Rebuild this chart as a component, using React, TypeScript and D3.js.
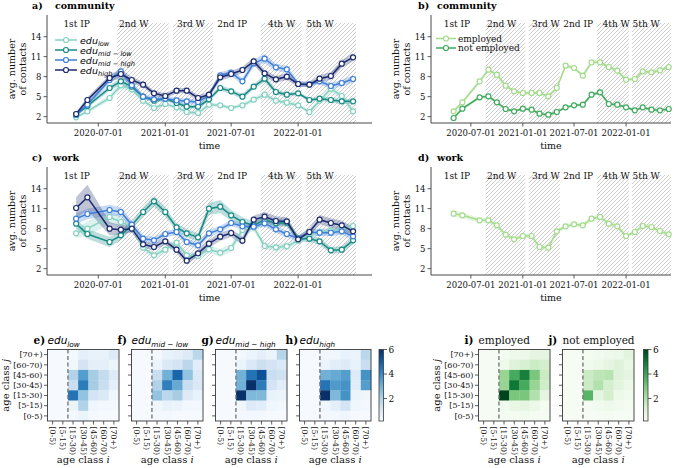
import React from "react";
import * as d3 from "d3";

const SERIF = "'DejaVu Serif', 'Liberation Serif', serif";
const SANS = "'DejaVu Sans', sans-serif";

// ---------- data ----------
const surveyDates = [
  "2020-05-01", "2020-06-01", "2020-08-01", "2020-09-01", "2020-10-01", "2020-11-01", "2020-12-01",
  "2021-01-01", "2021-02-01", "2021-03-01", "2021-04-01", "2021-05-01", "2021-06-01", "2021-07-01",
  "2021-08-01", "2021-09-01", "2021-10-01", "2021-11-01", "2021-12-01", "2022-01-01", "2022-02-01",
  "2022-03-01", "2022-04-01", "2022-05-01", "2022-06-01",
];
const xTickLabels = ["2020-07-01", "2021-01-01", "2021-07-01", "2022-01-01"];
const yTickValues = [2, 5, 8, 11, 14];

const periodNames = ["1st IP", "2nd W", "3rd W", "2nd IP", "4th W", "5th W"];
const periodLabelDates = ["2020-03-27", "2020-08-27", "2021-02-02", "2021-05-24", "2021-10-10", "2022-01-24"];
const hatchStartDates = ["2020-08-22", "2021-01-22", "2021-09-20", "2022-01-22"];
const hatchEndDates = ["2021-01-10", "2021-05-12", "2022-01-11", "2022-06-09"];

// community by education
const communityEduLow = [1.9, 2.8, 4.8, 6.7, 6.1, 4.4, 3.3, 3.9, 3.4, 2.7, 2.55, 3.8, 3.7, 3.3, 3.7, 4.55, 5.3, 4.4, 4.1, 3.7, 2.7, 4.4, 6.2, 5.1, 2.8];
const communityEduMidLow = [2.3, 3.6, 6.3, 7.3, 6.5, 5.0, 4.4, 4.7, 4.05, 3.5, 3.5, 4.6, 6.3, 5.8, 5.0, 6.5, 7.7, 5.7, 5.3, 5.5, 4.5, 4.7, 4.5, 4.3, 4.3];
const communityEduMidHigh = [2.3, 3.8, 7.5, 8.8, 6.7, 5.0, 4.6, 4.7, 4.45, 4.3, 4.2, 5.2, 8.2, 8.6, 7.3, 10.0, 10.7, 9.4, 9.1, 6.9, 6.85, 7.3, 6.6, 7.05, 7.65];
const communityEduHigh = [2.4, 4.5, 7.8, 8.4, 7.5, 6.8, 5.5, 5.1, 5.9, 5.9, 4.8, 5.3, 7.9, 8.4, 9.0, 10.3, 8.5, 7.6, 8.0, 6.9, 6.8, 7.7, 8.1, 9.95, 10.9];
const communityEduLowErr = [0.2, 0.3, 0.4, 0.5, 0.4, 0.3, 0.3, 0.3, 0.3, 0.3, 0.3, 0.3, 0.3, 0.3, 0.3, 0.4, 0.4, 0.3, 0.3, 0.3, 0.3, 0.4, 0.5, 0.5, 0.4];
const communityEduMidLowErr = [0.2, 0.3, 0.4, 0.5, 0.4, 0.3, 0.3, 0.3, 0.3, 0.3, 0.3, 0.3, 0.4, 0.4, 0.4, 0.4, 0.5, 0.4, 0.3, 0.3, 0.3, 0.3, 0.4, 0.4, 0.4];
const communityEduMidHighErr = [0.3, 0.4, 0.5, 0.6, 0.5, 0.4, 0.4, 0.4, 0.4, 0.4, 0.4, 0.4, 0.5, 0.5, 0.5, 0.6, 0.7, 0.5, 0.5, 0.4, 0.4, 0.4, 0.5, 0.5, 0.6];
const communityEduHighErr = [0.3, 0.4, 0.5, 0.7, 0.5, 0.4, 0.4, 0.4, 0.4, 0.4, 0.4, 0.4, 0.5, 0.5, 0.5, 0.6, 0.5, 0.5, 0.5, 0.4, 0.4, 0.5, 0.6, 0.6, 0.6];

// community by employment
const communityEmployed = [2.8, 4.15, 7.3, 9.05, 8.3, 6.65, 5.8, 5.55, 5.55, 5.55, 5.05, 6.3, 9.65, 9.3, 8.15, 10.15, 10.15, 9.45, 8.9, 7.55, 7.65, 8.8, 8.65, 8.95, 9.45];
const communityNotEmployed = [1.8, 3.2, 4.9, 5.05, 4.15, 3.15, 2.8, 3.2, 3.05, 2.45, 2.3, 2.7, 3.4, 3.7, 3.8, 5.3, 5.65, 3.9, 3.8, 3.4, 2.95, 3.4, 3.05, 2.95, 3.15];
const communityEmployedErr = [0.25, 0.25, 0.3, 0.3, 0.3, 0.25, 0.25, 0.25, 0.25, 0.25, 0.25, 0.25, 0.3, 0.3, 0.3, 0.3, 0.3, 0.3, 0.3, 0.25, 0.25, 0.25, 0.3, 0.3, 0.3];
const communityNotEmployedErr = [0.2, 0.2, 0.25, 0.25, 0.2, 0.2, 0.2, 0.2, 0.2, 0.2, 0.2, 0.2, 0.2, 0.2, 0.2, 0.25, 0.3, 0.2, 0.2, 0.2, 0.2, 0.2, 0.2, 0.2, 0.2];

// work by education
const workEduLow = [7.3, 8.0, 9.75, 9.0, 8.3, 5.15, 4.0, 4.85, 5.9, 4.0, 3.9, 4.9, 4.4, 5.1, 7.8, 8.2, 5.4, 5.2, 5.35, 6.2, 7.2, 7.5, 7.7, 7.9, 8.4];
const workEduMidLow = [8.75, 7.2, 6.0, 7.0, 8.5, 10.5, 12.1, 10.5, 8.2, 7.3, 6.7, 11.0, 11.3, 10.0, 9.0, 8.5, 9.3, 8.85, 8.9, 6.5, 6.5, 6.1, 4.75, 4.85, 6.25];
const workEduMidHigh = [9.5, 10.2, 10.8, 10.5, 8.6, 6.5, 6.25, 7.2, 7.5, 6.0, 5.5, 7.3, 7.9, 8.85, 8.35, 8.3, 8.8, 7.9, 7.2, 6.5, 7.5, 7.4, 7.4, 7.6, 6.85];
const workEduHigh = [11.1, 12.7, 8.0, 7.85, 8.0, 5.65, 5.25, 6.1, 4.85, 3.2, 4.3, 5.75, 6.8, 7.35, 6.2, 9.35, 9.8, 9.15, 9.1, 6.4, 7.5, 9.35, 8.85, 8.5, 7.6];
const workEduLowErr = [0.7, 1.1, 1.0, 0.8, 0.6, 0.5, 0.5, 0.5, 0.5, 0.5, 0.5, 0.6, 0.6, 0.6, 0.7, 0.6, 0.5, 0.5, 0.5, 0.5, 0.5, 0.5, 0.5, 0.5, 0.6];
const workEduMidLowErr = [0.7, 0.7, 0.8, 0.7, 0.6, 0.7, 0.8, 0.7, 0.6, 0.6, 0.6, 0.9, 1.0, 0.8, 0.7, 0.6, 0.6, 0.6, 0.6, 0.5, 0.5, 0.5, 0.5, 0.5, 0.6];
const workEduMidHighErr = [0.8, 0.8, 0.8, 0.7, 0.6, 0.5, 0.5, 0.5, 0.5, 0.5, 0.5, 0.5, 0.5, 0.5, 0.5, 0.5, 0.5, 0.5, 0.5, 0.5, 0.5, 0.5, 0.5, 0.5, 0.6];
const workEduHighErr = [1.6, 1.9, 1.0, 0.7, 0.6, 0.5, 0.5, 0.5, 0.5, 0.5, 0.5, 0.6, 0.6, 0.6, 0.6, 0.6, 0.7, 0.7, 0.6, 0.5, 0.6, 0.7, 0.7, 0.7, 0.7];

// work, employed only
const workEmployed = [10.25, 10.0, 9.25, 9.25, 8.5, 7.1, 6.4, 6.9, 6.9, 5.25, 5.15, 7.6, 8.35, 8.65, 8.5, 9.5, 9.75, 8.75, 8.35, 6.9, 7.5, 8.4, 8.25, 7.65, 7.15];
const workEmployedErr = [0.5, 0.45, 0.35, 0.35, 0.35, 0.3, 0.3, 0.3, 0.3, 0.3, 0.3, 0.3, 0.35, 0.35, 0.35, 0.4, 0.4, 0.35, 0.35, 0.3, 0.3, 0.35, 0.35, 0.35, 0.35];

// contact matrices (rows from top: [70+) ... [0-5); columns: [0-5) ... [70+))
const ageClasses = ["[0-5)", "[5-15)", "[15-30)", "[30-45)", "[45-60)", "[60-70)", "[70+)"];
const matrixEduLow = [
  [0.2, 0.2, 0.3, 0.7, 0.6, 0.6, 0.9],
  [0.2, 0.2, 0.4, 1.2, 0.7, 0.7, 0.5],
  [0.2, 0.2, 2.0, 3.5, 2.2, 1.6, 0.9],
  [0.2, 0.2, 1.5, 4.3, 2.2, 1.5, 0.7],
  [0.2, 0.2, 4.5, 2.5, 1.2, 1.0, 0.4],
  [0.2, 0.2, 0.5, 2.0, 0.4, 0.3, 0.3],
  [0.2, 0.2, 0.3, 0.5, 0.3, 0.2, 0.2],
];
const matrixEduMidLow = [
  [0.2, 0.2, 0.3, 0.6, 0.7, 0.9, 1.8],
  [0.2, 0.2, 0.5, 1.0, 1.2, 1.8, 0.8],
  [0.2, 0.2, 1.5, 3.0, 4.8, 2.5, 1.0],
  [0.2, 0.2, 2.0, 4.2, 3.2, 1.5, 1.0],
  [0.2, 0.2, 2.5, 1.8, 2.2, 0.9, 0.6],
  [0.2, 0.2, 0.4, 0.6, 0.5, 0.3, 0.3],
  [0.2, 0.2, 0.3, 0.3, 0.2, 0.2, 0.2],
];
const matrixEduMidHigh = [
  [0.2, 0.2, 0.3, 0.5, 0.7, 0.5, 1.9],
  [0.2, 0.2, 0.5, 1.0, 1.4, 1.2, 1.0],
  [0.2, 0.2, 3.0, 4.5, 5.3, 1.5, 1.3],
  [0.2, 0.2, 3.0, 6.0, 4.3, 1.2, 0.8],
  [0.2, 0.2, 6.0, 2.8, 2.8, 0.6, 0.5],
  [0.2, 0.2, 0.4, 0.9, 0.8, 0.4, 0.3],
  [0.2, 0.2, 0.3, 0.3, 0.3, 0.2, 0.2],
];
const matrixEduHigh = [
  [0.2, 0.2, 0.4, 0.4, 0.6, 0.5, 1.8],
  [0.2, 0.2, 0.5, 0.8, 0.9, 0.6, 1.5],
  [0.2, 0.2, 3.0, 3.2, 3.5, 0.9, 3.8],
  [0.2, 0.2, 4.5, 3.6, 3.8, 0.8, 3.5],
  [0.2, 0.2, 6.3, 2.8, 3.8, 0.5, 0.4],
  [0.2, 0.2, 0.4, 0.7, 1.2, 0.4, 0.3],
  [0.2, 0.2, 0.3, 0.3, 0.4, 0.2, 0.2],
];
const matrixEmployed = [
  [0.2, 0.2, 0.3, 0.5, 0.6, 0.8, 0.8],
  [0.2, 0.2, 0.5, 1.0, 1.2, 1.5, 1.3],
  [0.2, 0.2, 2.5, 3.8, 4.8, 3.0, 1.5],
  [0.2, 0.2, 2.5, 5.0, 3.8, 2.5, 1.4],
  [0.2, 0.2, 6.5, 3.0, 3.0, 2.0, 0.8],
  [0.2, 0.2, 0.4, 0.7, 0.8, 0.6, 0.3],
  [0.2, 0.2, 0.3, 0.3, 0.4, 0.3, 0.2],
];
const matrixNotEmployed = [
  [0.2, 0.2, 0.3, 0.4, 0.5, 0.6, 0.9],
  [0.2, 0.2, 0.4, 0.6, 0.8, 1.0, 0.7],
  [0.2, 0.2, 1.5, 1.8, 1.9, 1.0, 0.8],
  [0.2, 0.2, 1.5, 2.0, 1.3, 0.9, 0.6],
  [0.2, 0.2, 3.5, 0.8, 1.3, 0.6, 0.4],
  [0.2, 0.2, 0.3, 0.4, 0.5, 0.4, 0.3],
  [0.2, 0.2, 0.2, 0.2, 0.3, 0.2, 0.2],
];
const colorbarTicks = [2, 4, 6];

// ---------- styling ----------
const C_LOW = "#84d2c2";
const C_MIDLOW = "#178a86";
const C_MIDHIGH = "#3d7fd9";
const C_HIGH = "#1c2a6e";
const C_EMP = "#a3dc8c";
const C_NOTEMP = "#41ab5d";

const parseDate = d3.timeParse("%Y-%m-%d");
const axisStart = "2020-02-11";

type Series = { color: string; values: number[]; errors: number[] };

function EduLabel({ x, y, sub, size, subSize }: any) {
  return (
    <text x={x} y={y} fontFamily={SANS} fontStyle="italic" fontSize={size} fill="#000">
      edu
      <tspan fontSize={subSize} dy={size * 0.26}>{sub}</tspan>
    </text>
  );
}

function LinePanel({ x0, x1, top, bottom, endDate, series, letter, title, letterX, titleX, children }: any) {
  const x = d3.scaleTime().domain([parseDate(axisStart)!, parseDate(endDate)!]).range([x0, x1]);
  const y = d3.scaleLinear().domain([1.05, 17.25]).range([bottom, top]);
  const dts = surveyDates.map((d) => parseDate(d)!);
  const line = d3.line<number>().x((_, i) => x(dts[i])).y((v) => y(v));
  const hatchTop = top + 8;
  return (
    <g>
      {hatchStartDates.map((s, i) => (
        <rect key={"h" + i} x={x(parseDate(s)!)} y={hatchTop}
          width={x(parseDate(hatchEndDates[i])!) - x(parseDate(s)!)} height={bottom - hatchTop}
          fill="url(#hatch)" />
      ))}
      {periodNames.map((p, i) => (
        <text key={"p" + i} x={x(parseDate(periodLabelDates[i])!)} y={top + 11.5}
          fontFamily={SERIF} fontSize={9} fill="#111">{p}</text>
      ))}
      {series.map((s: Series, k: number) => {
        const area = d3.area<number>().x((_, i) => x(dts[i]))
          .y0((v, i) => y(v - s.errors[i])).y1((v, i) => y(v + s.errors[i]));
        return <path key={"a" + k} d={area(s.values) || ""} fill={s.color} fillOpacity={0.28} stroke="none" />;
      })}
      {series.map((s: Series, k: number) => (
        <g key={"l" + k}>
          <path d={line(s.values) || ""} fill="none" stroke={s.color} strokeWidth={1.5} />
          {s.values.map((v, i) => (
            <circle key={i} cx={x(dts[i])} cy={y(v)} r={2.5} fill="#fff" stroke={s.color} strokeWidth={1.2} />
          ))}
        </g>
      ))}
      {/* axes */}
      <line x1={x0} x2={x0} y1={top} y2={bottom} stroke="#333" strokeWidth={0.9} />
      <line x1={x0} x2={x1} y1={bottom} y2={bottom} stroke="#333" strokeWidth={0.9} />
      {yTickValues.map((t) => (
        <g key={"yt" + t}>
          <line x1={x0 - 3.5} x2={x0} y1={y(t)} y2={y(t)} stroke="#333" strokeWidth={0.8} />
          <text x={x0 - 5.5} y={y(t)} dy="0.34em" textAnchor="end" fontFamily={SERIF} fontSize={8.5} fill="#111">{t}</text>
        </g>
      ))}
      {xTickLabels.map((t) => {
        const px = x(parseDate(t)!);
        return (
          <g key={"xt" + t}>
            <line x1={px} x2={px} y1={bottom} y2={bottom + 3.5} stroke="#333" strokeWidth={0.8} />
            <text x={px} y={bottom + 12.5} textAnchor="middle" fontFamily={SERIF} fontSize={8.5} fill="#111">{t}</text>
          </g>
        );
      })}
      <text x={(x0 + x1) / 2} y={bottom + 26} textAnchor="middle" fontFamily={SERIF} fontSize={9.5} fill="#111">time</text>
      <text transform={`translate(${x0 - 32},${(top + bottom) / 2}) rotate(-90)`} textAnchor="middle"
        fontFamily={SERIF} fontSize={9.5} fill="#111">avg. number</text>
      <text transform={`translate(${x0 - 21.5},${(top + bottom) / 2}) rotate(-90)`} textAnchor="middle"
        fontFamily={SERIF} fontSize={9.5} fill="#111">of contacts</text>
      <text x={letterX} y={top - 6} fontFamily={SERIF} fontWeight="bold" fontSize={9.5} fill="#000">{letter}</text>
      <text x={titleX} y={top - 6} fontFamily={SERIF} fontWeight="bold" fontSize={9.5} fill="#000">{title}</text>
      {children}
    </g>
  );
}

function LegendLine({ x0, x1, y, color }: any) {
  return (
    <g>
      <line x1={x0} x2={x1} y1={y} y2={y} stroke={color} strokeWidth={1.5} />
      <circle cx={(x0 + x1) / 2} cy={y} r={2.5} fill="#fff" stroke={color} strokeWidth={1.2} />
    </g>
  );
}

function Heatmap({ x0, y0, size, matrix, interp, letter, title, showY }: any) {
  const xb = d3.scaleBand().domain(ageClasses).range([x0, x0 + size]);
  const yb = d3.scaleBand().domain([...ageClasses].reverse()).range([y0, y0 + size]);
  const color = d3.scaleSequential(interp).domain([0.17, 6]);
  const rows = [...ageClasses].reverse();
  const cw = xb.bandwidth();
  return (
    <g>
      {matrix.map((row: number[], r: number) =>
        row.map((v, c) => (
          <rect key={r + "-" + c} x={xb(ageClasses[c])} y={yb(rows[r])} width={cw + 0.3} height={yb.bandwidth() + 0.3}
            fill={color(v)} />
        ))
      )}
      <line x1={xb(ageClasses[2])} x2={xb(ageClasses[2])} y1={y0} y2={y0 + size}
        stroke="#7a7a7a" strokeWidth={1.4} strokeDasharray="4,2.5" />
      <rect x={x0} y={y0} width={size} height={size} fill="none" stroke="#3a3a3a" strokeWidth={0.9} />
      {ageClasses.map((a) => {
        const cy = (yb(a) as number) + yb.bandwidth() / 2;
        const cx = (xb(a) as number) + cw / 2;
        return (
          <g key={a}>
            <line x1={x0 - 3.5} x2={x0} y1={cy} y2={cy} stroke="#333" strokeWidth={0.8} />
            {showY && (
              <text x={x0 - 5} y={cy} dy="0.34em" textAnchor="end" fontFamily={SERIF} fontSize={8} fill="#111">{a}</text>
            )}
            <line x1={cx} x2={cx} y1={y0 + size} y2={y0 + size + 3.5} stroke="#333" strokeWidth={0.8} />
            <text transform={`translate(${cx},${y0 + size + 5.5}) rotate(90)`} dy="0.34em" textAnchor="start"
              fontFamily={SERIF} fontSize={7.8} fill="#111">{a}</text>
          </g>
        );
      })}
      <text x={x0 + size / 2} y={463} textAnchor="middle" fontFamily={SERIF} fontSize={10} fill="#111">
        age class <tspan fontStyle="italic">i</tspan>
      </text>
      <text x={x0 - 14} y={y0 - 5.5} fontFamily={SERIF} fontWeight="bold" fontSize={10.5} fill="#000">{letter}</text>
      {title}
    </g>
  );
}

function Colorbar({ x, y, w, h, interp, id }: any) {
  const cs = d3.scaleLinear().domain([0.17, 6]).range([y + h, y]);
  const stops = d3.range(0, 1.0001, 0.1);
  return (
    <g>
      <defs>
        <linearGradient id={id} x1="0" y1="1" x2="0" y2="0">
          {stops.map((t) => (
            <stop key={t} offset={t} stopColor={interp(t)} />
          ))}
        </linearGradient>
      </defs>
      <rect x={x} y={y} width={w} height={h} fill={`url(#${id})`} stroke="#3a3a3a" strokeWidth={0.8} />
      {colorbarTicks.map((t) => (
        <g key={t}>
          <line x1={x + w} x2={x + w + 3.5} y1={cs(t)} y2={cs(t)} stroke="#333" strokeWidth={0.8} />
          <text x={x + w + 5} y={cs(t)} dy="0.34em" fontFamily={SERIF} fontSize={9} fill="#111">{t}</text>
        </g>
      ))}
    </g>
  );
}

export default function App() {
  const seriesA: Series[] = [
    { color: C_LOW, values: communityEduLow, errors: communityEduLowErr },
    { color: C_MIDLOW, values: communityEduMidLow, errors: communityEduMidLowErr },
    { color: C_MIDHIGH, values: communityEduMidHigh, errors: communityEduMidHighErr },
    { color: C_HIGH, values: communityEduHigh, errors: communityEduHighErr },
  ];
  const seriesB: Series[] = [
    { color: C_EMP, values: communityEmployed, errors: communityEmployedErr },
    { color: C_NOTEMP, values: communityNotEmployed, errors: communityNotEmployedErr },
  ];
  const seriesC: Series[] = [
    { color: C_LOW, values: workEduLow, errors: workEduLowErr },
    { color: C_MIDLOW, values: workEduMidLow, errors: workEduMidLowErr },
    { color: C_MIDHIGH, values: workEduMidHigh, errors: workEduMidHighErr },
    { color: C_HIGH, values: workEduHigh, errors: workEduHighErr },
  ];
  const seriesD: Series[] = [{ color: C_EMP, values: workEmployed, errors: workEmployedErr }];

  const eduLegend = [
    { color: C_LOW, sub: "low" },
    { color: C_MIDLOW, sub: "mid \u2212 low" },
    { color: C_MIDHIGH, sub: "mid \u2212 high" },
    { color: C_HIGH, sub: "high" },
  ];
  const hmY = 349.5, hmS = 71.5;

  return (
    <div style={{ position: "absolute", left: 0, top: 0, width: 683, height: 468, background: "#fff" }}>
      <svg width={683} height={468} style={{ display: "block" }}>
        <defs>
          <pattern id="hatch" patternUnits="userSpaceOnUse" width="4" height="4">
            <path d="M-1,1 l2,-2 M0,4 l4,-4 M3,5 l2,-2" stroke="#b8b8b8" strokeWidth="0.7" />
          </pattern>
        </defs>

        <LinePanel x0={47} x1={372} top={15} bottom={123} endDate="2022-07-23" series={seriesA}
          letter="a)" title="community" letterX={32} titleX={55}>
          {eduLegend.map((e, i) => (
            <g key={i}>
              <LegendLine x0={55} x1={77} y={40 + i * 10} color={e.color} />
              <EduLabel x={80} y={40 + i * 10 + 3.5} sub={e.sub} size={9.5} subSize={6.7} />
            </g>
          ))}
        </LinePanel>

        <LinePanel x0={431} x1={671} top={15} bottom={123} endDate="2022-06-09" series={seriesB}
          letter="b)" title="community" letterX={418} titleX={437}>
          {[{ c: C_EMP, t: "employed" }, { c: C_NOTEMP, t: "not employed" }].map((e, i) => (
            <g key={i}>
              <LegendLine x0={436} x1={456} y={38.5 + i * 9.5} color={e.c} />
              <text x={458} y={38.5 + i * 9.5 + 3.2} fontFamily={SERIF} fontSize={9} fill="#111">{e.t}</text>
            </g>
          ))}
        </LinePanel>

        <LinePanel x0={47} x1={372} top={167} bottom={275} endDate="2022-07-23" series={seriesC}
          letter="c)" title="work" letterX={32} titleX={53} />

        <LinePanel x0={431} x1={671} top={167} bottom={275} endDate="2022-06-09" series={seriesD}
          letter="d)" title="work" letterX={418} titleX={437} />

        <Heatmap x0={47.5} y0={hmY} size={hmS} matrix={matrixEduLow} interp={d3.interpolateBlues} letter="e)" showY
          title={<EduLabel x={47.5} y={hmY - 5.5} sub="low" size={10.5} subSize={7.3} />} />
        <Heatmap x0={131.5} y0={hmY} size={hmS} matrix={matrixEduMidLow} interp={d3.interpolateBlues} letter="f)"
          title={<EduLabel x={131.5} y={hmY - 5.5} sub={"mid \u2212 low"} size={10.5} subSize={7.3} />} />
        <Heatmap x0={215.5} y0={hmY} size={hmS} matrix={matrixEduMidHigh} interp={d3.interpolateBlues} letter="g)"
          title={<EduLabel x={215.5} y={hmY - 5.5} sub={"mid \u2212 high"} size={10.5} subSize={7.3} />} />
        <Heatmap x0={299.5} y0={hmY} size={hmS} matrix={matrixEduHigh} interp={d3.interpolateBlues} letter="h)"
          title={<EduLabel x={299.5} y={hmY - 5.5} sub="high" size={10.5} subSize={7.3} />} />
        <Colorbar x={379} y={hmY} w={4.5} h={hmS} interp={d3.interpolateBlues} id="cbBlue" />

        <Heatmap x0={478.5} y0={hmY} size={hmS} matrix={matrixEmployed} interp={d3.interpolateGreens} letter="i)" showY
          title={<text x={478.5} y={hmY - 5.5} fontFamily={SERIF} fontSize={10.5} fill="#111">employed</text>} />
        <Heatmap x0={562.5} y0={hmY} size={hmS} matrix={matrixNotEmployed} interp={d3.interpolateGreens} letter="j)"
          title={<text x={562.5} y={hmY - 5.5} fontFamily={SERIF} fontSize={10.5} fill="#111">not employed</text>} />
        <Colorbar x={643.5} y={hmY} w={4.5} h={hmS} interp={d3.interpolateGreens} id="cbGreen" />

        <text transform={`translate(9,${hmY + hmS / 2}) rotate(-90)`} textAnchor="middle" fontFamily={SERIF} fontSize={10} fill="#111">
          age class <tspan fontStyle="italic">j</tspan>
        </text>
        <text transform={`translate(440,${hmY + hmS / 2}) rotate(-90)`} textAnchor="middle" fontFamily={SERIF} fontSize={10} fill="#111">
          age class <tspan fontStyle="italic">j</tspan>
        </text>
      </svg>
    </div>
  );
}
